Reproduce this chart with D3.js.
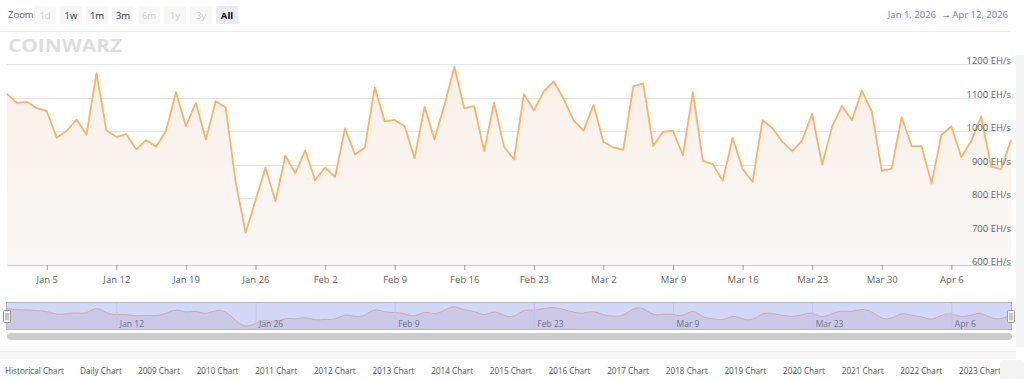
<!doctype html>
<html>
<head>
<script src="https://d3js.org/d3.v7.min.js"></script>
<style>
  body { margin: 0; background: #fff; }
  svg text { font-family: "Open Sans", sans-serif; }
</style>
</head>
<body>
<script>
// daily network hashrate, Jan 1 - Apr 12 2026 (EH/s)
const startDay = "2026-01-01";
const hashrate = [
  1111, 1084, 1087, 1068, 1059, 980, 1000, 1034, 989, 1173,
  1002, 982, 991, 945, 973, 953, 1001, 1116, 1015, 1084,
  975, 1089, 1070, 848, 696, 793, 890, 790, 926, 874,
  942, 853, 891, 862, 1008, 930, 951, 1130, 1029, 1033,
  1014, 919, 1072, 975, 1077, 1191, 1068, 1074, 940, 1085,
  953, 915, 1110, 1062, 1118, 1148, 1095, 1032, 1001, 1078,
  967, 951, 944, 1133, 1142, 955, 998, 1000, 928, 1116,
  911, 901, 851, 979, 887, 848, 1032, 1008, 968, 939,
  973, 1051, 899, 1013, 1075, 1032, 1120, 1058, 881, 888,
  1041, 955, 955, 843, 988, 1014, 922, 970, 1043, 894,
  886, 973
];
const yTicks = [600, 700, 800, 900, 1000, 1100, 1200];
const zoomButtons = ["1d", "1w", "1m", "3m", "6m", "1y", "3y", "All"];
const disabledButtons = ["1d", "6m", "1y", "3y"];
const rangeFrom = "Jan 1, 2026", rangeTo = "Apr 12, 2026";
const footerLinks = ["Historical Chart", "Daily Chart", "2009 Chart", "2010 Chart", "2011 Chart",
  "2012 Chart", "2013 Chart", "2014 Chart", "2015 Chart", "2016 Chart", "2017 Chart",
  "2018 Chart", "2019 Chart", "2020 Chart", "2021 Chart", "2022 Chart", "2023 Chart"];

const t0 = new Date(startDay + "T00:00:00Z");
const data = hashrate.map((v, i) => ({ date: d3.utcDay.offset(t0, i), value: v }));

const W = 1024, H = 379;
const svg = d3.select("body").append("svg").attr("width", W).attr("height", H);

// right-hand page strip
svg.append("rect").attr("x", 1016).attr("y", 55).attr("width", 8).attr("height", 292).attr("fill", "#f3f3f3");

// ---- zoom buttons ----
svg.append("text").attr("x", 8).attr("y", 18).attr("font-size", 9.5).attr("fill", "#666").text("Zoom");
const btn = svg.selectAll("g.btn").data(zoomButtons).enter().append("g")
  .attr("transform", (d, i) => "translate(" + (45 + i * 26) + ",0)");
btn.append("rect").attr("x", -11).attr("y", 6).attr("width", 22).attr("height", 18).attr("rx", 2)
  .attr("fill", d => d === "All" ? "#e6ebf5" : "#f7f7f7");
btn.append("text").attr("y", 18.5).attr("text-anchor", "middle").attr("font-size", 9.5)
  .attr("font-weight", d => d === "All" ? "bold" : "normal")
  .attr("fill", d => disabledButtons.includes(d) ? "#ccc" : (d === "All" ? "#000" : "#333"))
  .text(d => d);

// date range inputs
svg.append("text").attr("x", 936).attr("y", 18).attr("text-anchor", "end").attr("font-size", 9.5).attr("fill", "#6a7ef0").text(rangeFrom);
svg.append("text").attr("x", 946).attr("y", 18).attr("text-anchor", "middle").attr("font-size", 9.5).attr("fill", "#666").text("\u2192");
svg.append("text").attr("x", 1008).attr("y", 18).attr("text-anchor", "end").attr("font-size", 9.5).attr("fill", "#6a7ef0").text(rangeTo);
svg.append("line").attr("x1", 0).attr("x2", 1010).attr("y1", 31.5).attr("y2", 31.5).attr("stroke", "#eee");

// logo watermark
svg.append("text").attr("x", 8).attr("y", 52).attr("font-family", "DejaVu Sans").attr("font-weight", "bold")
  .attr("font-size", 18).attr("fill", "#dedede").attr("textLength", 114).attr("lengthAdjust", "spacingAndGlyphs")
  .text("COINWARZ");

// ---- main chart ----
const x = d3.scaleUtc().domain([t0, data[data.length - 1].date]).range([7, 1011]);
const y = d3.scaleLinear().domain([600, 1200]).range([265, 64]);

const defs = svg.append("defs");
const grad = defs.append("linearGradient").attr("id", "fillGrad").attr("x1", 0).attr("x2", 0).attr("y1", 0).attr("y2", 1);
grad.append("stop").attr("offset", "0%").attr("stop-color", "#faf0e6");
grad.append("stop").attr("offset", "100%").attr("stop-color", "#f9f8f8");

svg.append("g").selectAll("line").data(yTicks.slice(1)).enter().append("line")
  .attr("x1", 7).attr("x2", 1011).attr("y1", d => Math.round(y(d)) + 0.5).attr("y2", d => Math.round(y(d)) + 0.5)
  .attr("stroke", "#e6e6e6");

svg.append("path").datum(data)
  .attr("fill", "url(#fillGrad)")
  .attr("d", d3.area().x(d => x(d.date)).y0(y(600)).y1(d => y(d.value)));
svg.append("path").datum(data)
  .attr("fill", "none").attr("stroke", "#f9b46c").attr("stroke-width", 1.8).attr("stroke-linejoin", "round")
  .attr("d", d3.line().x(d => x(d.date)).y(d => y(d.value)));

svg.append("g").selectAll("text").data(yTicks).enter().append("text")
  .attr("x", 1011).attr("y", d => y(d)).attr("text-anchor", "end").attr("font-size", 9.5).attr("fill", "#666")
  .text(d => d + " EH/s");

const xAxis = svg.append("g").attr("transform", "translate(0,265)")
  .call(d3.axisBottom(x).ticks(d3.utcMonday).tickSize(5).tickSizeOuter(0).tickFormat(d3.utcFormat("%b %-d")));
xAxis.select(".domain").attr("stroke", "#ccc");
xAxis.selectAll(".tick line").attr("stroke", "#999");
xAxis.selectAll(".tick text").attr("font-family", "Open Sans").attr("font-size", 9.5).attr("fill", "#666").attr("dy", "1.1em");

// ---- navigator ----
const nTop = 302, nBot = 329;
const ny = d3.scaleLinear().domain(d3.extent(hashrate)).range([nBot - 1, nTop + 3]);
svg.append("rect").attr("x", 7).attr("y", nTop).attr("width", 1004).attr("height", nBot - nTop).attr("fill", "#d3d7f8");
svg.append("path").datum(data).attr("fill", "#ccc9e8")
  .attr("d", d3.area().curve(d3.curveBasis).x(d => x(d.date)).y0(nBot).y1(d => ny(d.value)));
svg.append("path").datum(data).attr("fill", "none").attr("stroke", "#cdaab0").attr("stroke-width", 1)
  .attr("d", d3.line().curve(d3.curveBasis).x(d => x(d.date)).y(d => ny(d.value)));
const navTicks = d3.utcMonday.range(new Date("2026-01-12T00:00:00Z"), x.domain()[1]).filter((d, i) => i % 2 === 0);
const navAxis = svg.append("g").attr("transform", "translate(0," + nTop + ")")
  .call(d3.axisBottom(x).tickValues(navTicks).tickSize(nBot - nTop).tickSizeOuter(0).tickFormat(d3.utcFormat("%b %-d")));
navAxis.select(".domain").remove();
navAxis.selectAll(".tick line").attr("stroke", "#c3c6ea");
navAxis.selectAll(".tick text").attr("font-family", "Open Sans").attr("font-size", 8.5).attr("fill", "#6e7088")
  .attr("text-anchor", "start").attr("x", 3).attr("y", 0).attr("dy", 0).attr("transform", "translate(0,25)");
svg.append("rect").attr("x", 6.5).attr("y", nTop + 0.5).attr("width", 1005).attr("height", nBot - nTop)
  .attr("fill", "none").attr("stroke", "#b5b5c8");
[7, 1011].forEach(hx => {
  svg.append("rect").attr("x", hx - 3.5).attr("y", 310.5).attr("width", 7).attr("height", 12).attr("rx", 1)
    .attr("fill", "#f2f2f2").attr("stroke", "#999");
  svg.append("line").attr("x1", hx - 1).attr("x2", hx - 1).attr("y1", 313).attr("y2", 320).attr("stroke", "#999");
  svg.append("line").attr("x1", hx + 1).attr("x2", hx + 1).attr("y1", 313).attr("y2", 320).attr("stroke", "#999");
});

// scrollbar
svg.append("rect").attr("x", 7).attr("y", 333).attr("width", 1005).attr("height", 7).attr("rx", 3.5).attr("fill", "#cccccc");

// ---- footer ----
svg.append("rect").attr("x", 0).attr("y", 351).attr("width", 1016).attr("height", 8).attr("fill", "#f7f7f7");
svg.append("line").attr("x1", 0).attr("x2", 1016).attr("y1", 351.5).attr("y2", 351.5).attr("stroke", "#eee");
const linkX = d3.scalePoint().domain(footerLinks.slice(2)).range([138, 959]);
svg.append("g").selectAll("text").data(footerLinks).enter().append("text")
  .attr("x", (d, i) => i === 0 ? 5 : i === 1 ? 80 : linkX(d)).attr("y", 374)
  .attr("font-size", 8.2).attr("fill", "#555").text(d => d);
svg.append("rect").attr("x", 1000).attr("y", 360).attr("width", 24).attr("height", 19).attr("rx", 3).attr("fill", "#f4f4f4");
</script>
</body>
</html>
